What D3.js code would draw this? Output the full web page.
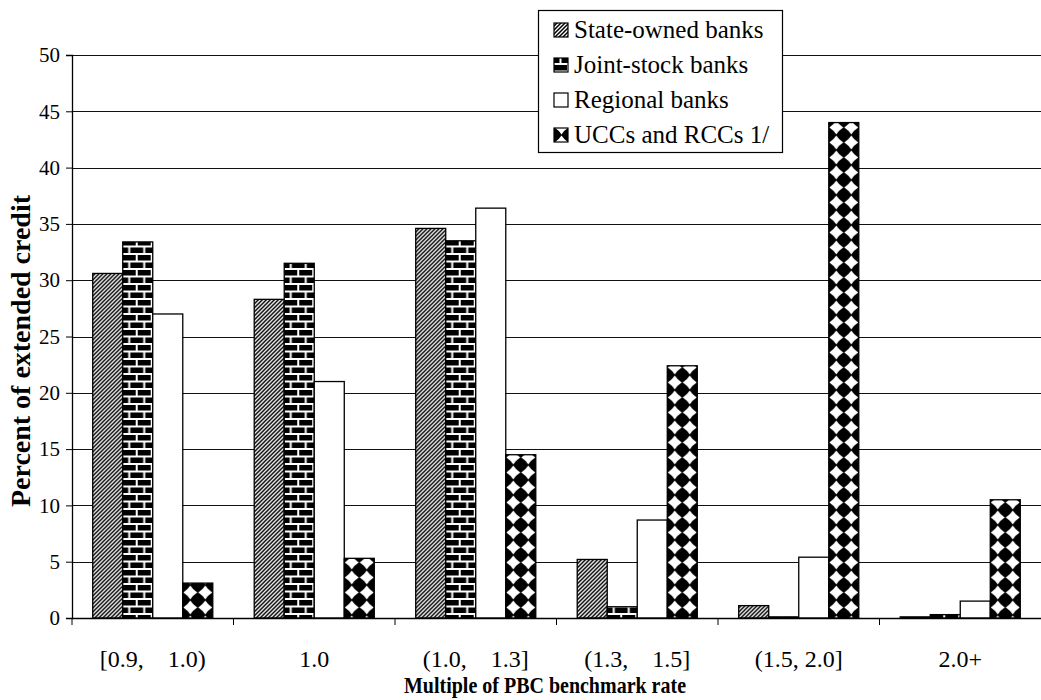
<!DOCTYPE html>
<html>
<head>
<meta charset="utf-8">
<script src="https://cdn.jsdelivr.net/npm/d3@7"></script>
<style>
  body { margin: 0; background: #fff; }
  text { font-family: "Liberation Serif", "Times New Roman", serif; fill: #000; }
</style>
</head>
<body>
<div id="chart"></div>
<script>
// Data
const categories = ["[0.9,    1.0)", "1.0", "(1.0,    1.3]", "(1.3,    1.5]", "(1.5, 2.0]", "2.0+"];
const seriesNames = ["State-owned banks", "Joint-stock banks", "Regional banks", "UCCs and RCCs 1/"];
const stateOwned = [30.6, 28.3, 34.6, 5.2, 1.1, 0.1];
const jointStock = [33.4, 31.5, 33.5, 1.0, 0.1, 0.3];
const regional   = [27.0, 21.0, 36.4, 8.7, 5.4, 1.5];
const uccRcc     = [3.1, 5.3, 14.5, 22.4, 44.0, 10.5];
const yTicks = [0, 5, 10, 15, 20, 25, 30, 35, 40, 45, 50];

const seriesValues = [stateOwned, jointStock, regional, uccRcc];
const fills = ["url(#hatch)", "url(#brick)", "#fff", "url(#diamond)"];

const W = 1041, H = 700;
const plot = { left: 72, right: 1041, top: 55, bottom: 618 };
const crisp = v => Math.round(v) + 0.5;

const svg = d3.select("#chart")
  .append("svg")
  .attr("width", W)
  .attr("height", H);

// Fill patterns
const defs = svg.append("defs");

const hatch = defs.append("pattern")
  .attr("id", "hatch")
  .attr("patternUnits", "userSpaceOnUse")
  .attr("width", 4).attr("height", 4);
hatch.append("rect").attr("width", 4).attr("height", 4).attr("fill", "#fff");
hatch.append("path")
  .attr("d", "M-1,1 L1,-1 M0,4 L4,0 M3,5 L5,3")
  .attr("stroke", "#000").attr("stroke-width", 1.5);

const brick = defs.append("pattern")
  .attr("id", "brick")
  .attr("patternUnits", "userSpaceOnUse")
  .attr("width", 15).attr("height", 15);
brick.append("rect").attr("width", 15).attr("height", 15).attr("fill", "#fff");
brick.append("rect").attr("x", 0).attr("y", 0).attr("width", 13).attr("height", 5.5).attr("fill", "#000");
brick.append("rect").attr("x", 0).attr("y", 7.5).attr("width", 5.5).attr("height", 5.5).attr("fill", "#000");
brick.append("rect").attr("x", 7.5).attr("y", 7.5).attr("width", 7.5).attr("height", 5.5).attr("fill", "#000");

const diamond = defs.append("pattern")
  .attr("id", "diamond")
  .attr("patternUnits", "userSpaceOnUse")
  .attr("width", 15).attr("height", 15);
diamond.append("rect").attr("width", 15).attr("height", 15).attr("fill", "#000");
diamond.append("path")
  .attr("d", "M7.5,0.5 Q10.2,4.8 14.5,7.5 Q10.2,10.2 7.5,14.5 Q4.8,10.2 0.5,7.5 Q4.8,4.8 7.5,0.5 Z")
  .attr("fill", "#fff");

// Scales
const x = d3.scaleBand()
  .domain(categories)
  .range([plot.left, plot.right]);

const xSub = d3.scaleBand()
  .domain(d3.range(seriesNames.length))
  .range([0, x.bandwidth()])
  .paddingOuter(0.69);

const y = d3.scaleLinear()
  .domain([0, 50])
  .range([plot.bottom, plot.top]);

// Gridlines
svg.append("g")
  .selectAll("line")
  .data(yTicks.filter(d => d > 0))
  .join("line")
  .attr("x1", plot.left).attr("x2", plot.right)
  .attr("y1", d => crisp(y(d))).attr("y2", d => crisp(y(d)))
  .attr("stroke", "#111").attr("stroke-width", 1);

// Bars
const groups = svg.append("g")
  .selectAll("g")
  .data(categories)
  .join("g");

groups.each(function(cat, ci) {
  const g = d3.select(this);
  seriesValues.forEach((vals, si) => {
    const bx = x(cat) + xSub(si);
    g.append("g")
      .attr("transform", `translate(${bx},0)`)
      .append("rect")
      .attr("x", 0)
      .attr("y", y(vals[ci]))
      .attr("width", xSub.bandwidth())
      .attr("height", y(0) - y(vals[ci]))
      .attr("fill", fills[si])
      .attr("stroke", "#000")
      .attr("stroke-width", 1.3);
  });
});

// Y axis
const yAxis = svg.append("g")
  .attr("transform", `translate(${plot.left},0)`)
  .call(d3.axisLeft(y).tickValues(yTicks).tickSize(6).tickPadding(6));
yAxis.select(".domain").attr("stroke", "#000").attr("stroke-width", 1.3);
yAxis.selectAll(".tick line").attr("stroke", "#000");
yAxis.selectAll("text").style("font-size", "21px").style("font-family", "Liberation Serif");

// X axis
const xAxis = svg.append("g")
  .attr("transform", `translate(0,${plot.bottom})`)
  .call(d3.axisBottom(x).tickSize(0).tickPadding(32));
xAxis.select(".domain").attr("stroke", "#000").attr("stroke-width", 1.3);
xAxis.selectAll("text")
  .style("font-size", "24px")
  .style("font-family", "Liberation Serif")
  .style("white-space", "pre");

// Category boundary ticks
xAxis.append("g")
  .selectAll("line")
  .data(categories)
  .join("line")
  .attr("x1", d => x(d)).attr("x2", d => x(d))
  .attr("y1", 0).attr("y2", 7)
  .attr("stroke", "#000");

// Axis titles
svg.append("text")
  .attr("transform", "translate(30,351) rotate(-90)")
  .attr("text-anchor", "middle")
  .attr("textLength", 312)
  .attr("lengthAdjust", "spacingAndGlyphs")
  .style("font-size", "27px")
  .style("font-weight", "bold")
  .text("Percent of extended credit");

svg.append("text")
  .attr("x", 545)
  .attr("y", 693)
  .attr("text-anchor", "middle")
  .attr("textLength", 282)
  .attr("lengthAdjust", "spacingAndGlyphs")
  .style("font-size", "23px")
  .style("font-weight", "bold")
  .text("Multiple of PBC benchmark rate");

// Legend
const legend = svg.append("g");
legend.append("rect")
  .attr("x", 538.5).attr("y", 10.5)
  .attr("width", 244).attr("height", 142)
  .attr("fill", "#fff")
  .attr("stroke", "#000").attr("stroke-width", 1.2);

const items = legend.selectAll("g.item")
  .data(seriesNames)
  .join("g")
  .attr("class", "item")
  .attr("transform", (d, i) => `translate(554,${30 + i * 35})`);

items.append("rect")
  .attr("x", 0).attr("y", -7)
  .attr("width", 14).attr("height", 14)
  .attr("fill", (d, i) => fills[i])
  .attr("stroke", "#000").attr("stroke-width", 1.2);

items.append("text")
  .attr("x", 20)
  .attr("y", 8)
  .style("font-size", "25px")
  .text(d => d);
</script>
</body>
</html>
